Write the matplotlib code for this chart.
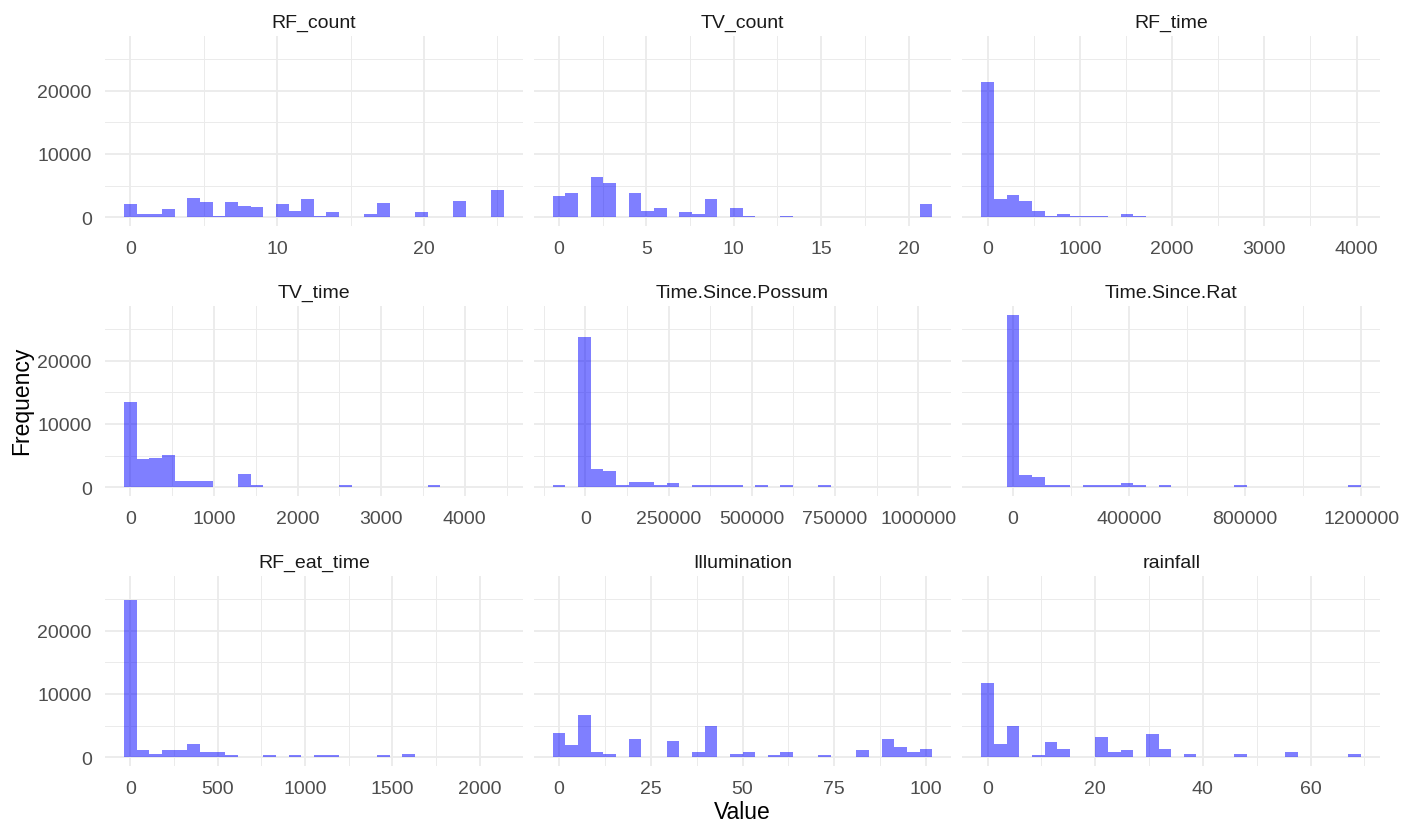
import numpy as np
import matplotlib
matplotlib.use("Agg")
import matplotlib.pyplot as plt
from matplotlib.ticker import MultipleLocator, FuncFormatter

plt.rcParams['font.family'] = ['Liberation Sans', 'DejaVu Sans']

# Variables shown in each facet (row-major order)
variables = ["RF_count", "TV_count", "RF_time",
             "TV_time", "Time.Since.Possum", "Time.Since.Rat",
             "RF_eat_time", "Illumination", "rainfall"]

# Observed minimum / maximum of each variable (30 bins span this range)
data_min = [0, 0, 0, 0, -79000, -86400, 0, 0, 0]
data_max = [25, 21, 3980, 4390, 1023000, 1178000, 2100, 100, 68.2]

# Bin counts (30 bins per variable)
rf_count = [2100, 530, 530, 1300, 0, 3100, 2370, 260, 2370, 1840,
            1580, 0, 2100, 1050, 2840, 260, 790, 0, 0, 530,
            2310, 0, 0, 790, 0, 0, 2580, 0, 0, 4370]
tv_count = [3310, 3840, 0, 6420, 5370, 0, 3840, 1050, 1530, 0,
            790, 530, 2840, 0, 1530, 260, 0, 0, 260, 0,
            0, 0, 0, 0, 0, 0, 0, 0, 0, 2050]
rf_time = [21400, 2840, 3580, 2580, 1050, 260, 530, 260, 260, 260,
           0, 530, 260, 0, 0, 0, 0, 0, 0, 0,
           0, 0, 0, 0, 0, 0, 0, 0, 0, 2]
tv_time = [13500, 4400, 4660, 5140, 1050, 1050, 1050, 0, 0, 2150,
           300, 0, 0, 0, 0, 0, 0, 300, 0, 0,
           0, 0, 0, 0, 300, 0, 0, 0, 0, 2]
time_since_possum = [300, 0, 23700, 2880, 2620, 300, 890, 890, 300, 630,
                     0, 300, 300, 300, 300, 0, 300, 0, 300, 0,
                     0, 300, 0, 0, 0, 0, 0, 0, 0, 2]
time_since_rat = [2, 0, 27250, 1890, 1620, 300, 300, 0, 300, 300,
                  300, 630, 300, 0, 300, 0, 0, 0, 0, 0,
                  300, 0, 0, 0, 0, 0, 0, 0, 0, 300]
rf_eat_time = [24800, 1100, 580, 1100, 1100, 2100, 840, 840, 300, 0,
               0, 300, 0, 300, 0, 300, 300, 0, 0, 0,
               300, 0, 580, 0, 0, 0, 0, 0, 0, 2]
illumination = [3890, 1890, 6670, 840, 580, 0, 2840, 0, 0, 2570,
                0, 840, 4880, 0, 580, 840, 0, 300, 840, 0,
                0, 300, 0, 0, 1100, 0, 2840, 1630, 840, 1370]
rainfall = [11760, 2100, 4880, 0, 300, 2360, 1310, 0, 0, 3150,
            840, 1100, 0, 3620, 1310, 0, 580, 0, 0, 0,
            580, 0, 0, 0, 840, 0, 0, 0, 0, 580]

counts = [rf_count, tv_count, rf_time, tv_time, time_since_possum,
          time_since_rat, rf_eat_time, illumination, rainfall]

# Major break spacing on each facet's x axis
x_break = [10, 5, 1000, 1000, 250000, 400000, 500, 25, 20]
y_break = 10000

W, H = 1413, 829
fig = plt.figure(figsize=(W / 100, H / 100), dpi=100)
fig.patch.set_facecolor("white")

left_px, right_px, col_gap = 105, 1380, 11
top_px, row_h, row_step = 37.2, 189.7, 270
col_w = (right_px - left_px - 2 * col_gap) / 3

ymax = max(max(c) for c in counts)
ylim = (-0.05 * ymax, 1.05 * ymax)

grid_col = "#EBEBEB"
tick_col = "#4D4D4D"
fmt = FuncFormatter(lambda v, p: f"{int(round(v))}")

for i, name in enumerate(variables):
    r, c = divmod(i, 3)
    x0 = left_px + c * (col_w + col_gap)
    y0 = top_px + r * row_step
    ax = fig.add_axes([x0 / W, 1 - (y0 + row_h) / H, col_w / W, row_h / H])

    lo, hi = data_min[i], data_max[i]
    n = len(counts[i])
    width = (hi - lo) / (n - 1)
    edges = np.linspace(lo - width / 2, hi + width / 2, n + 1)
    centers = (edges[:-1] + edges[1:]) / 2
    ax.hist(centers, bins=edges, weights=counts[i], color="blue",
            alpha=0.5, linewidth=0, zorder=3)

    span = edges[-1] - edges[0]
    ax.set_xlim(edges[0] - 0.05 * span, edges[-1] + 0.05 * span)
    ax.set_ylim(*ylim)

    ax.xaxis.set_major_locator(MultipleLocator(x_break[i]))
    ax.xaxis.set_minor_locator(MultipleLocator(x_break[i] / 2))
    ax.yaxis.set_major_locator(MultipleLocator(y_break))
    ax.yaxis.set_minor_locator(MultipleLocator(y_break / 2))
    ax.xaxis.set_major_formatter(fmt)
    ax.yaxis.set_major_formatter(fmt)

    ax.grid(which="major", color=grid_col, linewidth=1.3, zorder=0)
    ax.grid(which="minor", color=grid_col, linewidth=0.7, zorder=0)
    ax.set_axisbelow(True)
    for s in ax.spines.values():
        s.set_visible(False)

    ax.tick_params(which="both", length=0)
    ax.tick_params(axis="x", labelsize=14, labelcolor=tick_col, pad=10)
    ax.tick_params(axis="y", labelsize=14, labelcolor=tick_col, pad=9.5)
    if c != 0:
        ax.tick_params(axis="y", labelleft=False)

    ax.text(0.5, 1 + 9 / row_h, name, transform=ax.transAxes,
            ha="center", va="baseline", fontsize=14, color="#1A1A1A")

fig.text(22 / W, 1 - 401 / H, "Frequency", rotation=90, ha="center",
         va="center", fontsize=16.5, color="black")
fig.text(742.5 / W, 1 - 813 / H, "Value", ha="center", va="center",
         fontsize=16.5, color="black")

fig.savefig("out.png", dpi=100, facecolor="white")
